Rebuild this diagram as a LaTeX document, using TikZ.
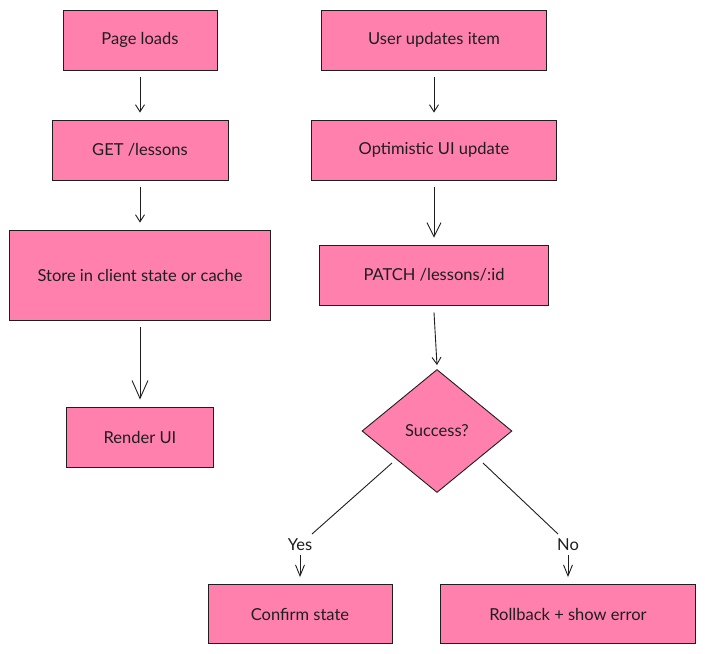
\documentclass[tikz,border=0pt]{standalone}
\usepackage{fontspec}
\setmainfont{Lato}
\usetikzlibrary{arrows.meta,shapes.geometric}
\definecolor{boxpink}{HTML}{FF80AD}
\definecolor{ink}{HTML}{1E1E1E}
\tikzset{
  stepbox/.style={draw=ink, fill=boxpink, line width=0.9pt, rectangle, inner sep=0pt, text=ink, font=\fontsize{16.5}{19}\selectfont},
  decision/.style={draw=ink, fill=boxpink, line width=0.9pt, diamond, inner sep=0pt, text=ink, font=\fontsize{16.5}{19}\selectfont},
  conn/.style={draw=ink, line width=0.9pt},
  smallhead/.style={conn, -{Straight Barb[length=7pt,width=9pt,line width=0.9pt]}},
  midhead/.style={conn, -{Straight Barb[length=14pt,width=14pt,line width=0.9pt]}},
  bighead/.style={conn, -{Straight Barb[length=18pt,width=16pt,line width=0.9pt]}},
  lblhead/.style={conn, -{Straight Barb[length=11pt,width=9pt,line width=0.9pt]}},
  edgelabel/.style={text=ink, inner sep=0pt, font=\fontsize{16.5}{19}\selectfont},
}
\begin{document}
\begin{tikzpicture}[x=1pt,y=-1pt]
\useasboundingbox[fill=white] (0,0) rectangle (705,654);
% left column
\node[stepbox, minimum width=154, minimum height=60] (pl) at (140,40) {Page loads};
\node[stepbox, minimum width=176, minimum height=60] (get) at (140,150) {GET /lessons};
\node[stepbox, minimum width=261, minimum height=90] (store) at (140,275) {Store in client state or cache};
\node[stepbox, minimum width=147, minimum height=60] (render) at (140,437) {Render UI};
% right column
\node[stepbox, minimum width=225, minimum height=60] (user) at (434,40) {User updates item};
\node[stepbox, minimum width=245, minimum height=60] (opt) at (434,150) {Optimistic UI update};
\node[stepbox, minimum width=229, minimum height=60] (patch) at (434,275) {PATCH /lessons/:id};
\node[decision, minimum width=150, minimum height=123] (succ) at (437,431) {Success?};
\node[stepbox, minimum width=184, minimum height=59] (conf) at (300,614) {Confirm state};
\node[stepbox, minimum width=255, minimum height=59] (roll) at (568,614) {Rollback + show error};
% labels
\node[edgelabel] (yes) at (300,545) {Yes};
\node[edgelabel] (no) at (568,545) {No};
% helper coordinates
\coordinate (ys) at (392,463);
\coordinate (ye) at (312,534);
\coordinate (ns) at (483,463);
\coordinate (ne) at (558,534);
% connectors
\draw[smallhead] ([yshift=-7]pl.south) -- ([yshift=7]get.north);
\draw[smallhead] ([yshift=-7]get.south) -- ([yshift=7]store.north);
\draw[bighead] ([yshift=-7]store.south) -- ([yshift=7]render.north);
\draw[smallhead] ([yshift=-7]user.south) -- ([yshift=7]opt.north);
\draw[midhead] ([yshift=-7]opt.south) -- ([yshift=7]patch.north);
\draw[smallhead] ([yshift=-7]patch.south) -- ([yshift=4]succ.north);
\draw[conn] (ys) -- (ye);
\draw[lblhead] ([yshift=-4]yes.south) -- ([yshift=7]conf.north);
\draw[conn] (ns) -- (ne);
\draw[lblhead] ([yshift=-4]no.south) -- ([yshift=7]roll.north);
\end{tikzpicture}
\end{document}
